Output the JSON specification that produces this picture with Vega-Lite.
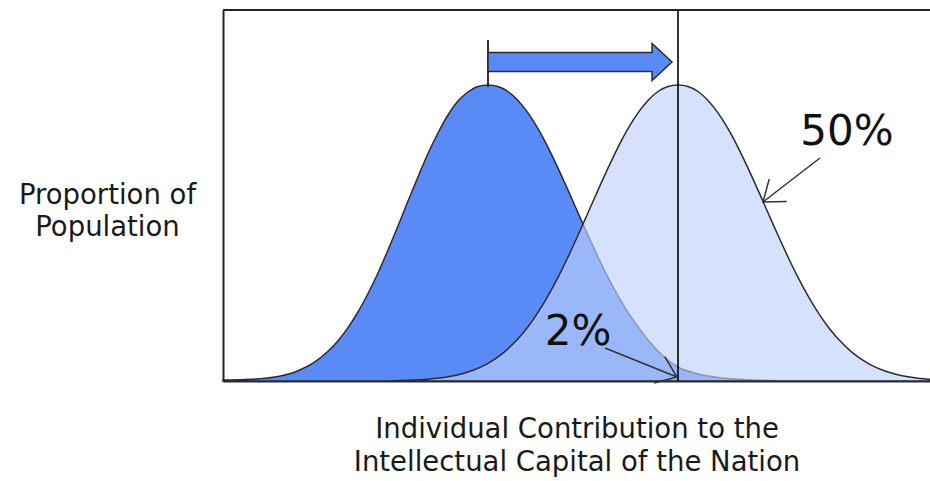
{
  "$schema": "https://vega.github.io/schema/vega-lite/v6.json",
  "autosize": {"type": "none"},
  "padding": {"left": 223, "top": 10, "right": 0, "bottom": 100},
  "width": 707,
  "height": 371,
  "background": "white",
  "config": {"view": {"stroke": null}, "font": "DejaVu Sans"},
  "datasets": {
    "low": [
      {"x": 223, "h": 1}, {"x": 238, "h": 1.3}, {"x": 258, "h": 2.2}, {"x": 278, "h": 4.5}, {"x": 298, "h": 10.3},
      {"x": 313, "h": 17.9}, {"x": 328, "h": 29.7}, {"x": 338, "h": 40.3}, {"x": 348, "h": 53.4}, {"x": 358, "h": 69},
      {"x": 368, "h": 87.5}, {"x": 378, "h": 108}, {"x": 388, "h": 131}, {"x": 398, "h": 155}, {"x": 408, "h": 180},
      {"x": 418, "h": 204}, {"x": 428, "h": 227.5}, {"x": 438, "h": 248}, {"x": 448, "h": 266}, {"x": 458, "h": 280},
      {"x": 468, "h": 289}, {"x": 478, "h": 294.5}, {"x": 488, "h": 296},
      {"x": 498, "h": 294.5}, {"x": 508, "h": 289.5}, {"x": 518, "h": 280.6}, {"x": 528, "h": 268.1}, {"x": 538, "h": 252.3},
      {"x": 548, "h": 233.7}, {"x": 558, "h": 212.9}, {"x": 568, "h": 190.9}, {"x": 578, "h": 168.2}, {"x": 588, "h": 145.7},
      {"x": 598, "h": 124}, {"x": 608, "h": 103.6}, {"x": 618, "h": 85.1}, {"x": 628, "h": 68.6}, {"x": 638, "h": 54.3},
      {"x": 648, "h": 41}, {"x": 663, "h": 25}, {"x": 678, "h": 14}, {"x": 698, "h": 7}, {"x": 718, "h": 3.5},
      {"x": 738, "h": 1.8}, {"x": 758, "h": 0.8}, {"x": 778, "h": 0.3}
    ],
    "high": [
      {"x": 388, "h": 0.3}, {"x": 408, "h": 0.8}, {"x": 428, "h": 1.8}, {"x": 448, "h": 4.2}, {"x": 468, "h": 9},
      {"x": 488, "h": 17.7}, {"x": 503, "h": 27.9}, {"x": 518, "h": 42.2}, {"x": 528, "h": 54.3}, {"x": 538, "h": 68.6},
      {"x": 548, "h": 85.1}, {"x": 558, "h": 103.6}, {"x": 568, "h": 124}, {"x": 578, "h": 145.7}, {"x": 588, "h": 168.2},
      {"x": 598, "h": 190.9}, {"x": 608, "h": 212.9}, {"x": 618, "h": 233.7}, {"x": 628, "h": 252.3}, {"x": 638, "h": 268.1},
      {"x": 648, "h": 280.6}, {"x": 658, "h": 289.5}, {"x": 668, "h": 294.5}, {"x": 678, "h": 296},
      {"x": 688, "h": 294.5}, {"x": 698, "h": 289.5}, {"x": 708, "h": 280.6}, {"x": 718, "h": 268.1}, {"x": 728, "h": 252.3},
      {"x": 738, "h": 233.7}, {"x": 748, "h": 212.9}, {"x": 758, "h": 190.9}, {"x": 768, "h": 168.2}, {"x": 778, "h": 145.7},
      {"x": 788, "h": 124}, {"x": 798, "h": 103.6}, {"x": 808, "h": 85.1}, {"x": 818, "h": 68.6}, {"x": 828, "h": 54.3},
      {"x": 838, "h": 42.2}, {"x": 853, "h": 27.9}, {"x": 868, "h": 17.7}, {"x": 888, "h": 9}, {"x": 908, "h": 4.2},
      {"x": 928, "h": 1.8}, {"x": 930, "h": 1.7}
    ]
  },
  "encoding": {
    "x": {"field": "x", "type": "quantitative", "scale": {"domain": [223, 930], "nice": false, "zero": false},
      "axis": {"orient": "bottom", "domain": true, "domainColor": "#2a2a3a", "domainWidth": 2, "ticks": false, "labels": false, "grid": false,
        "title": ["Individual Contribution to the", "Intellectual Capital of the Nation"],
        "titleFont": "DejaVu Sans", "titleFontSize": 27.5, "titleFontWeight": "normal", "titleColor": "#1a1a1a",
        "titleBaseline": "alphabetic", "titleAlign": "center", "titleY": 56, "titleLineHeight": 33}},
    "y": {"field": "h", "type": "quantitative", "scale": {"domain": [0, 371], "nice": false},
      "axis": {"orient": "left", "domain": true, "domainColor": "#222222", "domainWidth": 2, "ticks": false, "labels": false, "grid": false,
        "title": ["Proportion of", "Population"], "titleAngle": 0,
        "titleFont": "DejaVu Sans", "titleFontSize": 27.5, "titleFontWeight": "normal", "titleColor": "#1a1a1a",
        "titleBaseline": "alphabetic", "titleAlign": "center", "titleX": -116, "titleY": 193, "titleLineHeight": 32}}
  },
  "layer": [
    {"data": {"name": "low"},
      "mark": {"type": "area", "interpolate": "monotone", "color": "#5a8af5", "fill": "#5a8af5", "fillOpacity": 1, "stroke": "#2b2b33", "strokeWidth": 1.5}},
    {"data": {"name": "high"},
      "mark": {"type": "area", "interpolate": "monotone", "fill": "#bfd2fa", "fillOpacity": 0.64, "stroke": "#2b2b33", "strokeWidth": 1.5, "strokeOpacity": 1}},
    {"data": {"values": [{"x": 678}]},
      "mark": {"type": "rule", "color": "#000000", "strokeWidth": 1.6},
      "encoding": {"y": null}},
    {"data": {"values": [{"x": 488, "h": 341, "h2": 294}]},
      "mark": {"type": "rule", "color": "#000000", "strokeWidth": 1.6},
      "encoding": {"y2": {"field": "h2"}}},
    {"data": {"values": [{"x": 580, "h": 319}]},
      "mark": {"type": "point", "filled": true, "shape": "M-1,-0.103L0.783,-0.103L0.783,-0.201L1,0L0.783,0.201L0.783,0.103L-1,0.103Z",
        "size": 33856, "fill": "#5a8af5", "fillOpacity": 1, "stroke": "#2b2b33", "strokeWidth": 1.5, "opacity": 1}},
    {"data": {"values": [{"label": "50%", "x": 847, "h": 236}, {"label": "2%", "x": 578, "h": 36}]},
      "mark": {"type": "text", "font": "DejaVu Sans", "fontSize": 42, "align": "center", "baseline": "alphabetic", "color": "#111111"},
      "encoding": {"text": {"field": "label"}}},
    {"data": {"values": [{"x": 820, "h": 223, "x2": 763, "h2": 179}, {"x": 605, "h": 33, "x2": 677, "h2": 4}]},
      "mark": {"type": "rule", "color": "#333333", "strokeWidth": 1.5},
      "encoding": {"x2": {"field": "x2"}, "y2": {"field": "h2"}}},
    {"data": {"values": [{"x": 763, "h": 179}]},
      "mark": {"type": "point", "filled": false, "shape": "M-1,-0.75L0,0L-1,0.75", "size": 1444, "angle": 142, "stroke": "#333333", "strokeWidth": 1.5, "opacity": 1}},
    {"data": {"values": [{"x": 677, "h": 4}]},
      "mark": {"type": "point", "filled": false, "shape": "M-1,-0.75L0,0L-1,0.75", "size": 1444, "angle": 22, "stroke": "#333333", "strokeWidth": 1.5, "opacity": 1}},
    {"data": {"values": [{"h": 371}]},
      "mark": {"type": "rule", "color": "#222222", "strokeWidth": 2},
      "encoding": {"x": null}}
  ]
}
